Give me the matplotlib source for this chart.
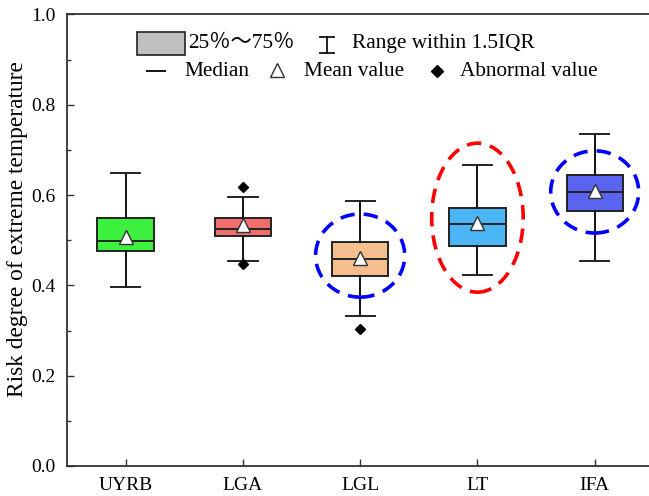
import matplotlib
matplotlib.use("Agg")
import matplotlib.pyplot as plt
import numpy as np
from matplotlib.patches import Ellipse, Rectangle

plt.rcParams['font.family'] = ['Liberation Serif', 'Noto Sans CJK SC']

# box statistics
regions = ['UYRB', 'LGA', 'LGL', 'LT', 'IFA']
whislo = [0.396, 0.455, 0.333, 0.422, 0.453]
q1 = [0.476, 0.509, 0.420, 0.487, 0.565]
med = [0.498, 0.525, 0.459, 0.536, 0.606]
q3 = [0.550, 0.550, 0.496, 0.572, 0.644]
whishi = [0.649, 0.596, 0.587, 0.667, 0.735]
means = [0.507, 0.533, 0.461, 0.539, 0.609]
fliers = [[], [0.617, 0.447], [0.304], [], []]
box_colors = ['#3EF03E', '#F06E6E', '#F5BE8E', '#4BB5F5', '#5B64F0']

# highlighted groups (dashed ellipses)
ell_pos = [3, 4, 5]
ell_y = [0.466, 0.550, 0.607]
ell_w = [0.76, 0.78, 0.75]
ell_h = [0.184, 0.330, 0.182]
ell_colors = ['#0000FF', '#FF0000', '#0000FF']

fig = plt.figure(figsize=(6.49, 4.96), dpi=100)
ax = fig.add_axes([0.1032, 0.0605, 0.9035, 0.9103])

stats = []
for i in range(len(regions)):
    stats.append({'label': regions[i], 'whislo': whislo[i], 'q1': q1[i], 'med': med[i],
                  'q3': q3[i], 'whishi': whishi[i], 'mean': means[i], 'fliers': fliers[i]})

pos = np.arange(1, len(regions) + 1)
bp = ax.bxp(stats, positions=pos, widths=0.48, patch_artist=True, showmeans=True,
            boxprops=dict(edgecolor='#222222', linewidth=1.4),
            medianprops=dict(color='#222222', linewidth=1.4),
            whiskerprops=dict(color='#111111', linewidth=1.4),
            capprops=dict(color='#222222', linewidth=1.4),
            capwidths=0.25,
            meanprops=dict(marker='^', markerfacecolor='white', markeredgecolor='#333333',
                           markersize=10, markeredgewidth=1.0),
            flierprops=dict(marker='D', markerfacecolor='black', markeredgecolor='black',
                            markersize=5.5))
for patch, c in zip(bp['boxes'], box_colors):
    patch.set_facecolor(c)

for x, y, w, h, c in zip(ell_pos, ell_y, ell_w, ell_h, ell_colors):
    e = Ellipse((x, y), w, h, fill=False, edgecolor=c, linewidth=2.6,
                linestyle=(0, (4, 2.5)), zorder=5)
    ax.add_patch(e)

ax.set_xlim(0.5, 5.5)
ax.set_ylim(0, 1.0)
ax.set_yticks(np.arange(0, 1.01, 0.2))
ax.set_yticks(np.arange(0.1, 1.0, 0.2), minor=True)
ax.set_xticks(pos)
ax.set_xticklabels(regions)
ax.tick_params(axis='both', direction='in', labelsize=14, width=1.0, color='#333333')
ax.tick_params(axis='y', which='major', length=5, pad=8)
ax.tick_params(axis='y', which='minor', direction='in', length=3, width=1.0, color='#333333')
ax.tick_params(axis='x', length=5, pad=8)
ax.yaxis.set_major_formatter(matplotlib.ticker.FormatStrFormatter('%.1f'))
for s in ax.spines.values():
    s.set_color('#333333')
    s.set_linewidth(1.3)
ax.set_ylabel('Risk degree of extreme temperature', fontsize=16.8)
ax.yaxis.set_label_coords(-0.067, 0.525)

# legend, drawn by hand in axes fractions
tr = ax.transAxes
lfs = 15.3
ax.add_patch(Rectangle((0.1194, 0.911), 0.0818, 0.051, transform=tr, facecolor='#C0C0C0',
                       edgecolor='#222222', linewidth=1.2))
ax.text(0.206, 0.936, '25％～75％', transform=tr, fontsize=lfs, va='center')
ax.plot([0.443, 0.443], [0.9147, 0.9502], transform=tr, color='#111111', lw=1.3)
ax.plot([0.431, 0.455], [0.9502, 0.9502], transform=tr, color='#111111', lw=1.3)
ax.plot([0.431, 0.455], [0.9147, 0.9147], transform=tr, color='#111111', lw=1.3)
ax.text(0.486, 0.936, 'Range within 1.5IQR', transform=tr, fontsize=lfs, va='center')

ax.plot([0.136, 0.167], [0.875, 0.875], transform=tr, color='#111111', lw=1.4)
ax.text(0.201, 0.873, 'Median', transform=tr, fontsize=lfs, va='center')
ax.plot([0.358], [0.876], transform=tr, marker='^', markerfacecolor='white',
        markeredgecolor='#333333', markersize=10, markeredgewidth=1.0)
ax.text(0.404, 0.873, 'Mean value', transform=tr, fontsize=lfs, va='center')
ax.plot([0.631], [0.874], transform=tr, marker='D', color='black', markersize=6)
ax.text(0.670, 0.873, 'Abnormal value', transform=tr, fontsize=lfs, va='center')

fig.savefig('out.png', dpi=100)
